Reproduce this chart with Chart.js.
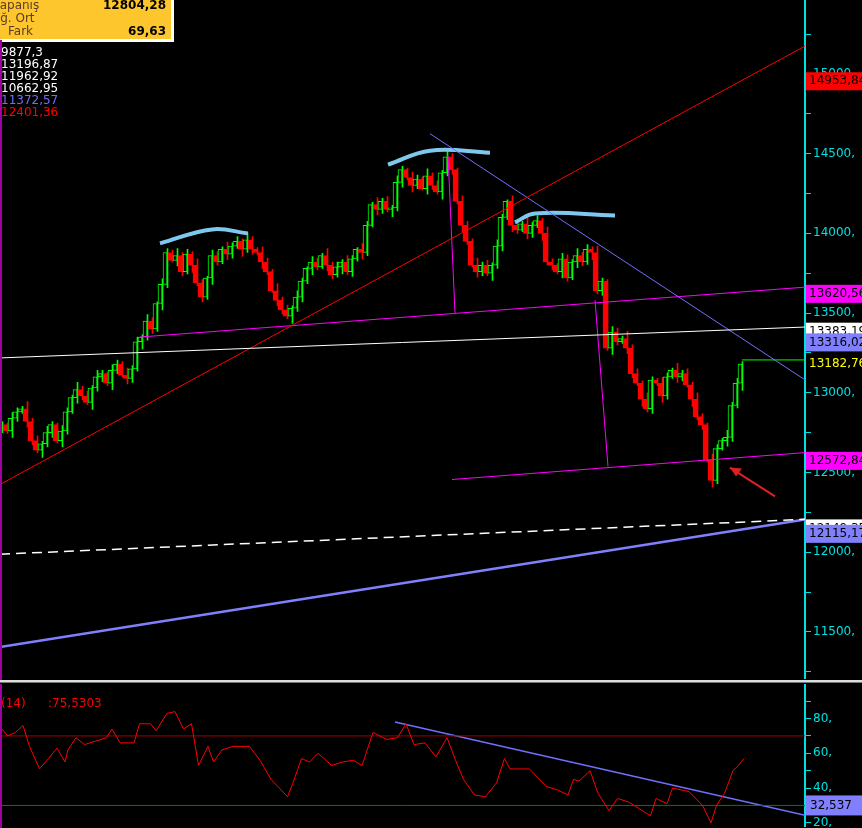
<!DOCTYPE html>
<html><head><meta charset="utf-8">
<script src="https://cdn.jsdelivr.net/npm/chart.js@4.4.1/dist/chart.umd.min.js"></script>
<style>
body{margin:0;background:#000;width:862px;height:828px;overflow:hidden;position:relative}
#top{position:absolute;left:0;top:-8px}
#sep{position:absolute;left:0;top:680px;width:862px;height:2px;background:#ddd}
#sep2{position:absolute;left:0;top:682px;width:862px;height:1px;background:#777}
#bot{position:absolute;left:0;top:676px}
</style></head><body>
<canvas id="top" width="862" height="696"></canvas>
<canvas id="bot" width="862" height="160"></canvas>
<div id="sep"></div><div id="sep2"></div>
<script>
// closing prices, one per candle
var closes = [12800,12760,12840,12880,12900,12820,12700,12640,12680,12750,12800,12700,12760,12880,12970,13020,12980,12940,13030,13100,
13120,13060,13140,13180,13110,13090,13150,13320,13350,13450,13400,13560,13680,13880,13830,13860,13760,13870,13800,13690,
13600,13720,13860,13820,13900,13870,13920,13950,13900,13960,13900,13880,13820,13760,13640,13580,13520,13480,13530,13600,
13700,13780,13820,13790,13860,13800,13740,13790,13820,13760,13840,13900,13880,14050,14180,14150,14200,14150,14160,14320,
14400,14350,14300,14340,14280,14360,14300,14260,14380,14480,14400,14200,14050,13950,13800,13760,13800,13750,13800,13920,
14100,14200,14050,14020,14060,14000,14050,14080,14000,13820,13800,13760,13840,13720,13820,13860,13820,13900,13880,13640,
13700,13280,13380,13320,13340,13280,13120,13060,12960,12900,13080,13060,12980,13100,13140,13100,13120,13050,12960,12850,
12800,12580,12450,12650,12700,12720,12920,13060,13180];
var wicks = [30,15,40,20,10,35,25,15,45,20];

var rsiX = [0,1.1,2.7,4.2,5.5,7.5,9.3,11,12.6,13.2,14.8,16.5,18.7,20.9,22,23.6,26.4,27.5,29.7,30.8,33,34.6,36.3,37.9,39.3,41.2,42.3,44,46.2,49.5,
51.6,53.8,57.1,58.2,59.9,61.5,63.2,64.8,65.9,68.1,70.3,72,74.2,76.9,79.1,80.8,82.4,84.6,86.8,89,90.7,92.3,94.5,96.7,98.9,100.5,101.6,105.5,108.8,111,
113.2,114.3,115.4,117.6,119.2,121.4,123.1,125.3,127.5,129.7,130.8,133,134.1,137.4,140.1,141.8,142.9,144.5,146.2,147.3,148.4];
var rsiY = [74,70,72,76,64,51,57,63,55,62,69,65,67,69,74,66,66,77,77,73,83,84,74,77,53,64,55,62,64,64,
56,45,35,43,57,55,60,56,53,55,56,53,72,68,69,77,65,66,58,69,56,45,36,35,43,57,51,51,41,39,
36,45,44,50,37,27,34,32,28,24,34,31,40,38,30,20,30,37,50,53,57];

var priceTicks = [11500,12000,12500,13000,13500,14000,14500,15000];
var rsiTicks = [20,40,60,80];
var priceLabels = [
  {v:14953.84, t:'14953,84', bg:'#ff0000', fg:'#000'},
  {v:13620.56, t:'13620,56', bg:'#ff00ff', fg:'#000'},
  {v:13383.19, t:'13383,19', bg:'#ffffff', fg:'#000'},
  {v:13316.02, t:'13316,02', bg:'#8080ff', fg:'#000'},
  {v:13182.76, t:'13182,76', bg:'#000000', fg:'#ffff00'},
  {v:12572.84, t:'12572,84', bg:'#ff00ff', fg:'#000'},
  {v:12149.35, t:'12149,35', bg:'#ffffff', fg:'#000'},
  {v:12115.17, t:'12115,17', bg:'#8080ff', fg:'#000'}
];
var infoNames = ['Kapanış','Ağ. Ort','Fark'];
var infoVals = ['12804,28','','69,63'];
var sideVals = [['9877,3','#fff'],['13196,87','#fff'],['11962,92','#fff'],['10662,95','#fff'],['11372,57','#6f6fff'],['12401,36','#f00']];

var X0 = -0.4, X1 = 160.6;
function px(p){ return p/5 - 0.4; }            // pixel column -> candle index
function pr(y){ return 15456 - y*6.25; }         // pixel row -> price

var bodies = [], wickData = [], bodyBg = [], bodyBd = [], wickCol = [];
for (var i = 0; i < closes.length; i++) {
  var o = i == 0 ? closes[0] - 20 : closes[i-1];
  var c = closes[i];
  var w = wicks[i % wicks.length];
  bodies.push({x:i, y:[o, c]});
  wickData.push({x:i, y:[Math.min(o,c) - w, Math.max(o,c) + wicks[(i+3) % wicks.length]]});
  var up = c >= o;
  bodyBg.push(up ? '#000' : '#ff0000');
  bodyBd.push(up ? '#00ff00' : '#ff0000');
  wickCol.push(up ? '#00ff00' : '#ff0000');
}

function seg(x1,y1,x2,y2){ return [{x:px(x1),y:pr(y1)},{x:px(x2),y:pr(y2)}]; }
function ln(data,color,width,dash,tension){
  return {type:'line', data:data, borderColor:color, borderWidth:width||1, borderDash:dash||[],
    pointRadius:0, fill:false, tension:tension||0, order:0};
}

var yAxisFit = function(s){ s.width = 57; };

var topPlugin = {
  id:'topDeco',
  afterDraw: function(chart){
    var ctx = chart.ctx, y = chart.scales.y, a = chart.chartArea;
    ctx.save();
    ctx.font = '12px "DejaVu Sans"';
    ctx.textBaseline = 'middle';
    priceLabels.forEach(function(l){
      var py = y.getPixelForValue(l.v);
      ctx.fillStyle = l.bg; ctx.fillRect(a.right+1, py-9, 57, 18);
      ctx.fillStyle = l.fg; ctx.textAlign = 'left'; ctx.fillText(l.t, a.right+4, py);
    });
    // arrow
    var ax = chart.scales.x;
    var x1 = ax.getPixelForValue(px(775)), y1 = y.getPixelForValue(pr(497));
    var x2 = ax.getPixelForValue(px(730)), y2 = y.getPixelForValue(pr(468));
    ctx.strokeStyle = '#e02020'; ctx.lineWidth = 2;
    ctx.beginPath(); ctx.moveTo(x1,y1); ctx.lineTo(x2,y2); ctx.stroke();
    ctx.fillStyle = '#e02020';
    ctx.beginPath(); ctx.moveTo(x2,y2); ctx.lineTo(x2+12,y2+1); ctx.lineTo(x2+6,y2+9); ctx.fill();
    // info box (canvas is shifted up by 8px)
    ctx.translate(0, 8);
    ctx.fillStyle = '#fff'; ctx.fillRect(0,-8,174,50);
    ctx.fillStyle = '#fcc62c'; ctx.fillRect(0,-8,171,47);
    ctx.font = '12px "DejaVu Sans"';
    for (var k = 0; k < 3; k++) {
      ctx.fillStyle = '#5a3a2a'; ctx.textAlign = 'left';
      ctx.fillText(infoNames[k], k == 2 ? 8 : -8, 6 + k*13);
      ctx.fillStyle = '#000'; ctx.textAlign = 'right'; ctx.font = 'bold 12px "DejaVu Sans"';
      ctx.fillText(infoVals[k], 166, 6 + k*13);
      ctx.font = '12px "DejaVu Sans"';
    }
    ctx.textAlign = 'left';
    sideVals.forEach(function(s, k){ ctx.fillStyle = s[1]; ctx.fillText(s[0], 1, 53 + k*12); });
    ctx.fillStyle = '#a000a0'; ctx.fillRect(0, 40, 2, 640);
    ctx.restore();
  }
};

new Chart(document.getElementById('top'), {
  type:'bar',
  data:{ datasets:[
    ln(seg(0,358,805,327),'#ffffff',1),
    ln(seg(0,485,805,45),'#ff0000',1),
    ln(seg(430,133,805,380),'#7070ff',1),
    ln(seg(140,337,805,287),'#ff00ff',1),
    ln(seg(452,480,805,453),'#ff00ff',1),
    ln(seg(448,155,455,313),'#ff00ff',1),
    ln(seg(595,300,608,467),'#ff00ff',1),
    ln(seg(0,555,805,520),'#ffffff',1.5,[10,6]),
    ln(seg(0,648,805,520),'#8080ff',2.5),
    ln(seg(742,360,805,360),'#00ff00',1),
    ln([{x:px(160),y:pr(243)},{x:px(212),y:pr(229)},{x:px(248),y:pr(233)}],'#7ec8f0',4,[],0.4),
    ln([{x:px(388),y:pr(164)},{x:px(430),y:pr(150)},{x:px(490),y:pr(152)}],'#7ec8f0',4,[],0.4),
    ln([{x:px(515),y:pr(222)},{x:px(535),y:pr(213)},{x:px(615),y:pr(215)}],'#7ec8f0',4,[],0.4),
    {type:'bar', data:bodies, backgroundColor:bodyBg, borderColor:bodyBd, borderWidth:1, barThickness:4, order:1, borderSkipped:false},
    {type:'bar', data:wickData, backgroundColor:wickCol, barThickness:1, order:2}
  ]},
  options:{
    responsive:false, animation:false,
    layout:{padding:0},
    plugins:{legend:{display:false}, tooltip:{enabled:false}},
    scales:{
      x:{type:'linear', min:X0, max:X1, display:false, offset:false},
      y:{position:'right', min:pr(680), max:pr(0), afterFit:yAxisFit,
        grid:{drawOnChartArea:false, color:'#00e0e0', tickLength:6},
        border:{color:'#00e0e0', width:2},
        afterBuildTicks:function(s){ s.ticks = []; for (var v = 11250; v <= 15250; v += 250) s.ticks.push({value:v}); },
        ticks:{color:'#00e0e0', font:{family:'DejaVu Sans', size:12}, padding:2,
          callback:function(v){ return priceTicks.indexOf(v) >= 0 ? v + ',' : ''; }}
      }
    }
  },
  plugins:[topPlugin]
});

var rsiPlugin = {
  id:'rsiDeco',
  afterDraw:function(chart){
    var ctx = chart.ctx, y = chart.scales.y, a = chart.chartArea;
    ctx.save();
    var py = y.getPixelForValue(30);
    ctx.fillStyle = '#8080ff'; ctx.fillRect(a.right+1, py-10, 57, 20);
    ctx.fillStyle = '#000'; ctx.font = '12px "DejaVu Sans"'; ctx.textBaseline = 'middle';
    ctx.fillText('32,537', a.right+5, py);
    ctx.fillStyle = '#ff0000'; ctx.font = '12px "DejaVu Sans"';
    ctx.fillText('(14)', 1, 28); ctx.fillText(':75,5303', 48, 28);
    ctx.fillStyle = '#a000a0'; ctx.fillRect(0, 8, 2, 152);
    ctx.restore();
  }
};

var rsiPts = rsiX.map(function(x, k){ return {x:x, y:rsiY[k]}; });
new Chart(document.getElementById('bot'), {
  type:'line',
  data:{ datasets:[
    {data:rsiPts, borderColor:'#ff0000', borderWidth:1, pointRadius:0, tension:0},
    {data:[{x:X0,y:70},{x:X1,y:70}], borderColor:'#a00000', borderWidth:1, pointRadius:0},
    {data:[{x:X0,y:30},{x:X1,y:30}], borderColor:'#008000', borderWidth:1, pointRadius:0},
    {data:[{x:px(395),y:78},{x:X1,y:24.3}], borderColor:'#7070ff', borderWidth:1.5, pointRadius:0}
  ]},
  options:{
    responsive:false, animation:false, layout:{padding:0},
    plugins:{legend:{display:false}, tooltip:{enabled:false}},
    scales:{
      x:{type:'linear', min:X0, max:X1, display:false},
      y:{position:'right', min:17.7, max:99.2, afterFit:yAxisFit,
        grid:{drawOnChartArea:false, color:'#00e0e0', tickLength:6},
        border:{color:'#00e0e0', width:2},
        afterBuildTicks:function(s){ s.ticks = []; for (var v = 20; v <= 90; v += 10) s.ticks.push({value:v}); },
        ticks:{color:'#00e0e0', font:{family:'DejaVu Sans', size:12}, padding:2,
          callback:function(v){ return rsiTicks.indexOf(v) >= 0 ? v + ',' : ''; }}
      }
    }
  },
  plugins:[rsiPlugin]
});
</script>
</body></html>
